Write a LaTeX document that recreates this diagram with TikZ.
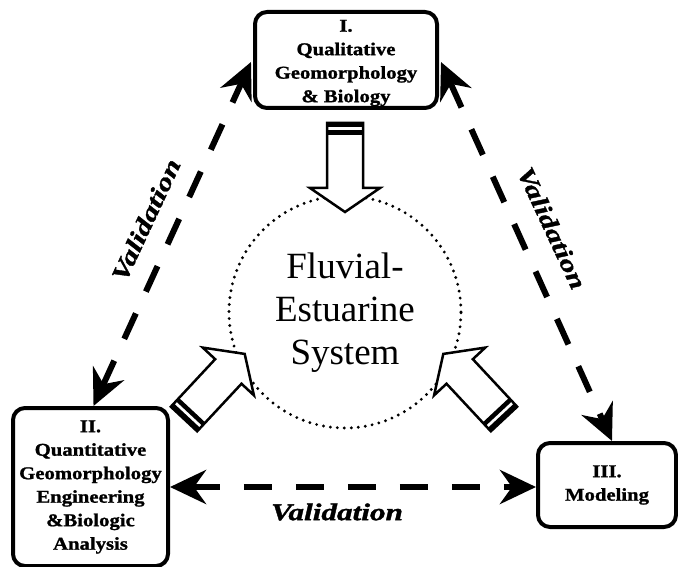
\documentclass[tikz,border=0pt]{standalone}
\usepackage{fontspec}
\setmainfont{Liberation Serif}
\newfontfamily\boxfont{Liberation Serif}[FakeStretch=1.15,BoldFeatures={FakeBold=1.2}]
\newfontfamily\valfont{Liberation Serif}[FakeStretch=1.3,BoldItalicFeatures={FakeBold=1.5}]
\usetikzlibrary{arrows.meta,calc}
\tikzset{
  boxtext/.style={align=center, font=\boxfont\fontsize{18}{23.5}\selectfont\bfseries, inner sep=0pt},
  box/.style={boxtext, draw, line width=4pt, rounded corners=12pt, fill=white},
  valarrow/.style={line width=6pt, dash pattern=on 28pt off 24pt,
    {Stealth[length=36pt,width=34pt,inset=12pt]}-{Stealth[length=36pt,width=34pt,inset=12pt]}},
  vallabel/.style={font=\valfont\fontsize{24}{26}\selectfont\bfseries\itshape, inner sep=0pt},
  blockarrow/.style={draw, line width=2.5pt, fill=white, line join=miter},
}
\newcommand{\bigarrow}[2]{%
  \begin{scope}[shift={#1}, rotate=#2]
    \draw[blockarrow] (0,-18) -- (65,-18) -- (65,-35) -- (89,0) -- (65,35) -- (65,18) -- (0,18) -- cycle;
    \fill (0,-18) rectangle (4.5,18);
    \fill (7.5,-18) rectangle (12,18);
  \end{scope}}
\begin{document}
\begin{tikzpicture}[x=1pt,y=-1pt]
\useasboundingbox[fill=white] (0,0) rectangle (678,567);
% system circle
\node[circle, draw, line width=3.2pt, dash pattern=on 0pt off 7pt, line cap=round,
  minimum size=232pt, inner sep=0pt] (sys) at (345,312) {};
\node[align=center, font=\fontsize{37}{43}\selectfont] (systxt) at (345,313) {Fluvial-\\Estuarine\\System};
% block arrows
\bigarrow{(345,123)}{-90}
\bigarrow{(184,419)}{47}
\bigarrow{(504,419)}{133}
% boxes
\node[box, minimum width=182pt, minimum height=96pt] (b1) at (346,60) {};
\node[boxtext] (t1) at (346,63)
  {I.\\Qualitative\\Geomorphology\\\& Biology};
\node[box, minimum width=155pt, minimum height=158pt] (b2) at (90.5,487)
  {II.\\Quantitative\\Geomorphology\\Engineering\\\&Biologic\\Analysis};
\node[box, minimum width=138pt, minimum height=84pt] (b3) at (607,485)
  {III.\\Modeling};
% validation arrows
\draw[valarrow] ($(b2.north)+(3,0)$) -- ($(b1.west)+(-2,2)$);
\draw[valarrow] ($(b1.east)+(2,2)$) -- ($(b3.north)+(5,0)$);
\draw[valarrow] (b2.east) -- (b2.east -| b3.west);
% labels
\node[vallabel, rotate=65] (l1) at (146,220) {Validation};
\node[vallabel, rotate=-65] (l2) at (552,228) {Validation};
\node[vallabel] (l3) at (337,512) {Validation};
\end{tikzpicture}
\end{document}
